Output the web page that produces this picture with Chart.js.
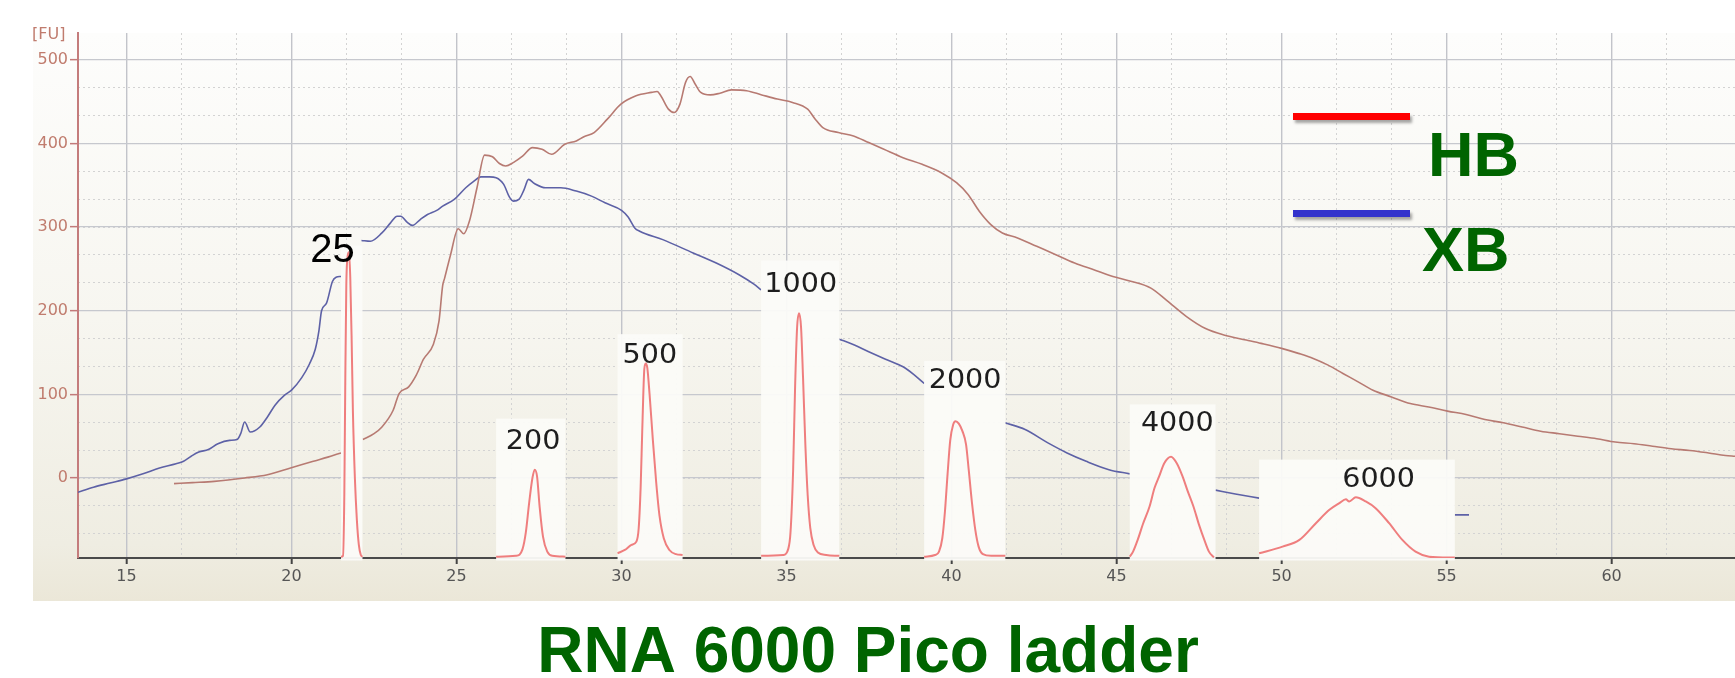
<!DOCTYPE html>
<html><head><meta charset="utf-8">
<script src="https://cdn.jsdelivr.net/npm/chart.js@4.4.0/dist/chart.umd.min.js"></script>
<style>html,body{margin:0;padding:0;background:#fff;overflow:hidden}#wrap{width:1735px;height:678px;position:relative}canvas{display:block}</style>
</head><body><div id="wrap"><canvas id="c" width="1735" height="678"></canvas></div>
<script>
// ---- axis ranges and tick labels ----
const X_MIN = 13.53, X_MAX = 63.74, Y_MIN = -95.6, Y_MAX = 532;
const xTickValues = [15, 20, 25, 30, 35, 40, 45, 50, 55, 60];
const yTickValues = [0, 100, 200, 300, 400, 500];

// ---- XB (blue) trace, null = hidden behind ladder insets ----
const blueX = [13.53,14.0,14.5,15.0,15.5,16.0,16.5,16.73,16.96,17.19,17.48,17.77,18.12,18.35,18.46,18.58,18.75,19.04,19.27,19.5,19.79,20.0,20.31,20.54,20.72,20.83,20.91,21.06,21.24,21.35,21.5,
  21.8,
  22.12,22.39,22.74,23.0,23.2,23.31,23.5,23.66,23.9,24.12,24.4,24.58,24.93,25.28,25.5,25.74,26.0,26.2,26.43,26.6,26.72,26.89,27.05,27.18,27.36,27.7,28.16,28.63,29.09,29.5,30.0,30.2,30.4,30.55,31.25,32.17,32.87,33.56,34.0,34.23,
  35.4,
  36.6,37.0,37.49,38.0,38.53,38.85,39.17,
  40.4,
  41.63,42.23,42.92,43.5,44.08,44.77,45.4,
  46.7,
  48.0,48.6,49.32,
  52.0,
  55.25,55.68];
const blueY = [-17,-11,-6,-1,5,12,17,20,26,31,34,41,45,46,53,67,55,61,73,87,99,105,120,136,154,176,200,209,235,240,241,
  null,
  284,283,293,305,313,313,306,302,309,315,320,325,333,347,354,360,360,359,351,336,331,333,345,357,352,347,347,343,337,329,320,312,299,295,285,269,257,243,232,225,
  null,
  166,160,151,142,133,124,113,
  null,
  66,58,42,30,20,10,5,
  null,
  -14.5,-19,-24,
  null,
  -44,-44];

// ---- HB (red) trace ----
const hbX = [16.44,17.0,17.66,18.58,19.27,19.97,20.66,21.1,21.5,
  21.8,
  22.16,22.5,22.74,23.08,23.26,23.55,23.78,24.0,24.3,24.47,24.58,24.64,24.82,25.05,25.22,25.39,25.62,25.85,26.09,26.3,26.49,26.72,27.01,27.3,27.59,27.88,28.28,28.63,28.86,29.17,29.57,29.98,30.44,30.9,31.08,31.19,31.42,31.6,31.77,31.94,32.08,32.23,32.4,32.69,32.98,33.33,33.79,34.25,34.72,35.18,35.64,35.87,36.1,36.57,37.03,37.49,37.95,38.53,39.11,39.69,40.15,40.5,40.84,41.19,41.54,42.0,42.58,43.16,43.73,44.31,44.89,45.46,46.04,46.5,47.12,47.68,48.25,48.93,49.38,50.0,50.51,50.96,51.41,51.86,52.32,52.77,53.33,53.9,54.46,55.03,55.59,56.16,56.72,57.29,57.85,58.42,58.98,59.55,60.11,60.68,61.24,61.81,62.37,62.94,63.45,63.74];
const hbY = [-6.7,-5.5,-4,0,4,12,20,25,30,
  null,
  46,53,61,81,101,109,123,142,160,188,230,239,267,298,292,307,347,386,384,376,373,377,385,395,393,387,399,403,408,413,429,447,457,461,462,457,441,437,447,473,480,471,461,458,460,464,463,458,453,449,441,429,419,413,409,401,393,383,375,365,353,339,319,303,293,287,277,267,257,249,241,235,227,213,193,179,171,165,161,155,149,143,135,125,115,105,97,89,85,80,76,70,66,61,56,53,50,47,43,41,38,35,33,30,27,26];

// ---- RNA 6000 Pico ladder peaks (inset traces) ----
const ladderX = [21.5,21.56,21.6,21.63,21.66,21.7,21.74,21.78,21.82,21.86,21.92,21.98,22.04,22.1,22.15,
  24.0,
  26.2,26.8,27.0,27.1,27.2,27.3,27.37,27.44,27.52,27.62,27.75,27.9,28.3,
  29.0,
  29.88,30.1,30.3,30.45,30.52,30.58,30.63,30.69,30.73,30.78,30.85,30.95,31.05,31.15,31.28,31.45,31.65,31.85,
  33.0,
  34.23,34.9,35.05,35.12,35.2,35.26,35.32,35.38,35.44,35.5,35.57,35.64,35.72,35.82,35.95,36.2,36.6,
  38.0,
  39.17,39.5,39.62,39.72,39.8,39.88,39.96,40.05,40.12,40.22,40.33,40.44,40.52,40.62,40.72,40.82,40.95,41.2,41.63,
  43.0,
  45.4,45.5,45.64,45.8,46.0,46.15,46.29,46.45,46.65,46.82,47.0,47.15,47.33,47.5,47.66,47.8,47.95,
  48.6,
  49.32,50.03,50.54,51.04,51.45,51.75,51.95,52.05,52.25,52.55,52.85,53.26,53.66,54.06,54.47,55.07,55.25];
const ladderY = [-94,-93,-20,120,230,265,270,240,170,80,0,-50,-80,-92,-94,
  null,
  -94,-93,-85,-65,-30,0,10,2,-35,-70,-88,-93,-94,
  null,
  -90,-86,-80,-76,-60,-10,60,130,137,132,100,45,-5,-45,-72,-86,-91,-92,
  null,
  -93,-92,-85,-65,10,110,180,197,180,120,40,-20,-60,-80,-89,-92,-93,
  null,
  -94,-92,-88,-72,-40,5,45,64,68,65,56,40,10,-30,-62,-82,-91,-93,-93,
  null,
  -94,-88,-74,-55,-34,-12,2,18,25.5,18,2,-15,-34,-56,-74,-88,-95,
  null,
  -90,-82,-74,-54,-38,-30,-25.5,-28,-23,-28,-36,-54,-74,-88,-94,-95,-95];

// ---- ladder inset panels (data units) ----
const insetX0 = [21.5, 26.2, 29.88, 34.23, 39.17, 45.4, 49.32];
const insetX1 = [22.15, 28.3, 31.85, 36.6, 41.63, 48.0, 55.25];
const insetTop = [278, 71, 172, 260, 140, 88, 22];

// ---- peak size labels ----
const peakLabels = ['200', '500', '1000', '2000', '4000', '6000'];
const peakLabelX = [27.32, 30.86, 35.43, 40.41, 46.84, 52.94];
const peakLabelY = [34.7, 137.5, 222.4, 107.1, 56, -10.5];
const firstPeakLabel = '25', firstPeakLabelX = 21.24, firstPeakLabelY = 258;

const zip = (xs, ys) => xs.map((x, i) => ({x: x, y: ys[i]}));

const decor = {
  id: 'decor',
  beforeDraw(chart) {
    const ctx = chart.ctx;
    ctx.save();
    ctx.fillStyle = '#ffffff';
    ctx.fillRect(0, 0, chart.width, chart.height);
    const g = ctx.createLinearGradient(0, 33, 0, 601);
    g.addColorStop(0, '#fdfdfc');
    g.addColorStop(0.5, '#f7f6f0');
    g.addColorStop(0.9, '#efede2');
    g.addColorStop(1, '#ebe7d8');
    ctx.fillStyle = g;
    ctx.fillRect(33, 33, chart.width - 33, 568);
    ctx.restore();
  },
  beforeDatasetDraw(chart, args) {
    if (args.index !== 2) return;
    const ctx = chart.ctx, xs = chart.scales.x, ys = chart.scales.y;
    ctx.save();
    ctx.fillStyle = 'rgba(251,251,248,0.95)';
    for (let i = 0; i < insetX0.length; i++) {
      const l = xs.getPixelForValue(insetX0[i]), r = xs.getPixelForValue(insetX1[i]);
      const t = ys.getPixelForValue(insetTop[i]), b = ys.getPixelForValue(Y_MIN) + 2.5;
      ctx.fillRect(l, t, r - l, b - t);
    }
    ctx.restore();
  },
  afterDraw(chart) {
    const ctx = chart.ctx, xs = chart.scales.x, ys = chart.scales.y;
    ctx.save();
    // peak labels
    ctx.fillStyle = '#1e1e1e';
    ctx.textAlign = 'center';
    ctx.textBaseline = 'alphabetic';
    ctx.font = '26px "DejaVu Sans"';
    for (let i = 0; i < peakLabels.length; i++) {
      ctx.save();
      ctx.translate(xs.getPixelForValue(peakLabelX[i]), ys.getPixelForValue(peakLabelY[i]));
      ctx.scale(1.1, 1);
      ctx.fillText(peakLabels[i], 0, 0);
      ctx.restore();
    }
    ctx.fillStyle = '#000';
    ctx.font = '40px "Liberation Sans"';
    ctx.fillText(firstPeakLabel, xs.getPixelForValue(firstPeakLabelX), ys.getPixelForValue(firstPeakLabelY));
    // FU unit label
    ctx.textAlign = 'left';
    ctx.fillStyle = '#c07c6e';
    ctx.font = '16px "DejaVu Sans"';
    ctx.fillText('[FU]', 32, 39);
    // legend
    ctx.save();
    ctx.shadowColor = 'rgba(0,0,0,0.35)';
    ctx.shadowOffsetX = 2; ctx.shadowOffsetY = 3; ctx.shadowBlur = 3;
    ctx.fillStyle = '#ff0000';
    ctx.fillRect(1293, 113, 117, 7);
    ctx.fillStyle = '#3333cc';
    ctx.fillRect(1293, 210, 117, 7);
    ctx.restore();
    ctx.fillStyle = '#006400';
    ctx.font = 'bold 63px "Liberation Sans"';
    ctx.fillText('HB', 1428, 176);
    ctx.fillText('XB', 1422, 271);
    // title
    ctx.textAlign = 'center';
    ctx.font = 'bold 64px "Liberation Sans"';
    ctx.fillText('RNA 6000 Pico ladder', 868, 672);
    ctx.restore();
  }
};

const onlyMultiples = (step) => (ax) => {
  ax.ticks = ax.ticks.filter(t => Math.abs(t.value / step - Math.round(t.value / step)) < 1e-6);
};

new Chart(document.getElementById('c'), {
  type: 'line',
  data: {
    datasets: [
      {label: 'XB', data: zip(blueX, blueY), borderColor: '#5d61a6', borderWidth: 1.6, pointRadius: 0, order: 2, spanGaps: false, cubicInterpolationMode: 'monotone'},
      {label: 'HB', data: zip(hbX, hbY), borderColor: '#b77a72', borderWidth: 1.6, pointRadius: 0, order: 1, spanGaps: false, cubicInterpolationMode: 'monotone'},
      {label: 'Ladder', data: zip(ladderX, ladderY), borderColor: '#ef7e7e', borderWidth: 2, pointRadius: 0, order: 0, spanGaps: false, cubicInterpolationMode: 'monotone'}
    ]
  },
  options: {
    responsive: false,
    animation: false,
    devicePixelRatio: 1,
    layout: {padding: {left: 0, right: 0, top: 33, bottom: 0}},
    plugins: {legend: {display: false}, tooltip: {enabled: false}, title: {display: false}},
    scales: {
      xm: {
        type: 'linear', position: 'bottom', min: X_MIN, max: X_MAX,
        ticks: {display: false, stepSize: 5 / 3},
        afterBuildTicks: onlyMultiples(5 / 3),
        afterFit: ax => { ax.height = 0; },
        grid: {color: '#d3d3d3', lineWidth: 1, drawTicks: false},
        border: {display: false, dash: [2, 3]}
      },
      ym: {
        type: 'linear', position: 'left', min: Y_MIN, max: Y_MAX,
        ticks: {display: false, stepSize: 100 / 3},
        afterBuildTicks: onlyMultiples(100 / 3),
        afterFit: ax => { ax.width = 0; },
        grid: {color: '#d3d3d3', lineWidth: 1, drawTicks: false},
        border: {display: false, dash: [2, 3]}
      },
      x: {
        type: 'linear', position: 'bottom', min: X_MIN, max: X_MAX,
        afterBuildTicks: ax => { ax.ticks = xTickValues.map(v => ({value: v})); },
        afterFit: ax => { ax.height = 120; },
        ticks: {autoSkip: false, maxRotation: 0, color: '#555555', padding: 3,
                font: {family: 'DejaVu Sans', size: 16}, callback: v => String(v)},
        grid: {color: '#c2c4ca', lineWidth: 1.4, tickLength: 6, tickColor: '#444444', tickWidth: 2},
        border: {display: true, color: '#4a4a4a', width: 2}
      },
      y: {
        type: 'linear', position: 'left', min: Y_MIN, max: Y_MAX,
        afterBuildTicks: ax => { ax.ticks = yTickValues.map(v => ({value: v})); },
        afterFit: ax => { ax.width = 78; },
        ticks: {color: '#c07c6e', padding: 2, font: {family: 'DejaVu Sans', size: 16}, callback: v => String(v)},
        grid: {color: '#c6c8ce', lineWidth: 1.3, tickLength: 8, tickColor: '#c27a7a', tickWidth: 1.5},
        border: {display: true, color: '#c47c7c', width: 2}
      }
    }
  },
  plugins: [decor]
});
</script>
</body></html>
